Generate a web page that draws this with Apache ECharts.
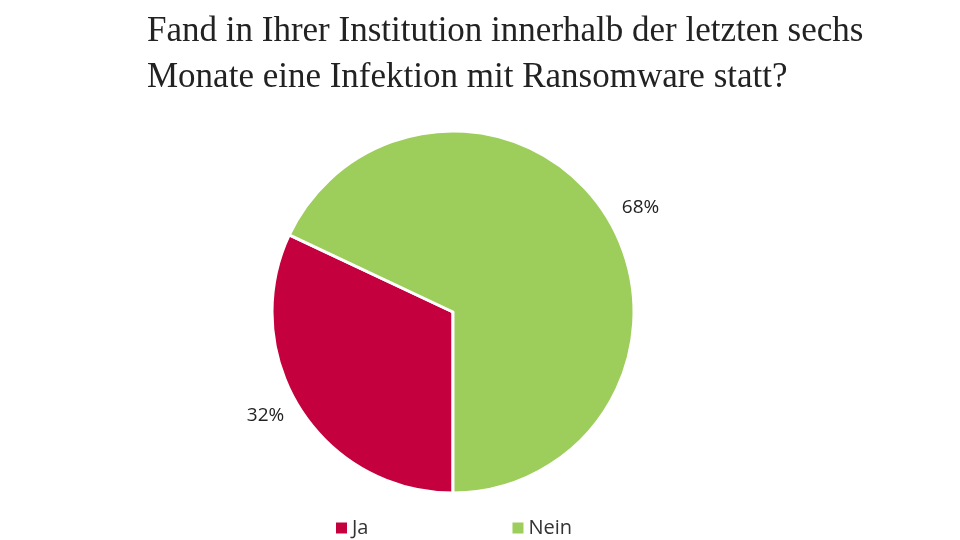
<!DOCTYPE html>
<html>
<head>
<meta charset="utf-8">
<script src="https://cdn.jsdelivr.net/npm/echarts@6/dist/echarts.min.js"></script>
<style>
  html, body { margin: 0; padding: 0; background: #fff; }
  #chart { width: 960px; height: 540px; }
</style>
</head>
<body>
<div id="chart"></div>
<script>
// Daten
const categories = ['Ja', 'Nein'];
const values = [32, 68];
const colors = ['#C4003F', '#9DCD5B'];
const titleLines = [
  'Fand in Ihrer Institution innerhalb der letzten sechs',
  'Monate eine Infektion mit Ransomware statt?'
];

const chart = echarts.init(document.getElementById('chart'));
chart.setOption({
  animation: false,
  title: {
    text: titleLines.join('\n'),
    left: 142,
    top: 4,
    textStyle: {
      fontFamily: 'Liberation Serif',
      fontWeight: 'normal',
      fontSize: 35,
      lineHeight: 46,
      color: '#222'
    }
  },
  legend: {
    data: categories,
    left: 329,
    top: 513,
    itemWidth: 13,
    itemHeight: 13,
    itemGap: 142,
    icon: 'rect',
    textStyle: {
      fontFamily: 'Open Sans',
      fontSize: 20,
      color: '#333',
      padding: [0, 0, 0, -1]
    }
  },
  series: [{
    type: 'pie',
    center: [453, 312],
    radius: 181,
    startAngle: 270,
    clockwise: true,
    data: categories.map((c, i) => ({
      name: c,
      value: values[i],
      itemStyle: { color: colors[i] }
    })),
    itemStyle: { borderColor: '#fff', borderWidth: 3 },
    label: {
      show: true,
      position: 'outside',
      formatter: '{c}%',
      fontFamily: 'Open Sans',
      fontSize: 19,
      color: '#222'
    },
    labelLine: { show: false, length: 13, length2: 0 }
  }]
});
</script>
</body>
</html>
